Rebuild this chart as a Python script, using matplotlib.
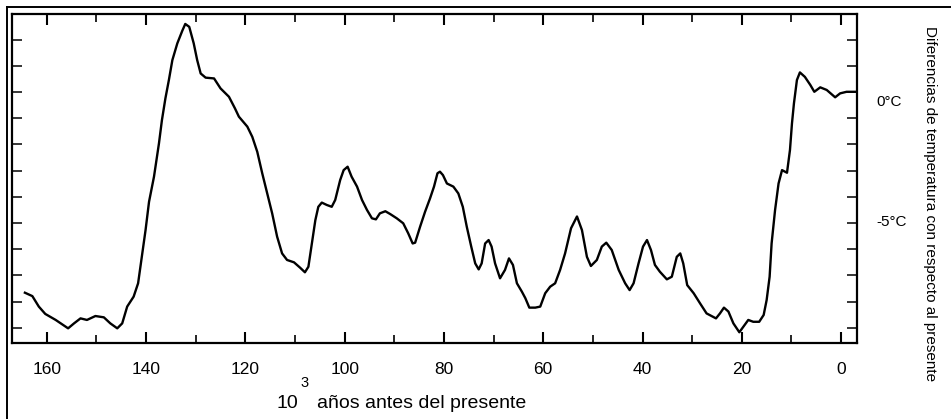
import matplotlib
matplotlib.use("Agg")
import matplotlib.pyplot as plt
from matplotlib.lines import Line2D

plt.rcParams['font.family'] = ['Liberation Sans', 'DejaVu Sans']

# Age (thousands of years before present) and temperature difference (°C)
ka = [164.4, 162.9, 161.6, 160.3, 158.2, 155.7, 154.5, 153.2, 151.9, 150.2,
      148.5, 147.2, 145.8, 144.8, 143.8, 142.5, 141.6, 140.9, 140.1, 139.4,
      138.4, 137.4, 136.8, 136.1, 135.4, 134.7, 133.7, 132.7, 132.1, 131.3,
      130.4, 129.7, 129.0, 128.0, 126.3, 125.0, 123.3, 122.1, 121.3, 119.6,
      118.6, 117.6, 116.6, 115.6, 114.6, 113.6, 112.6, 111.6, 110.2, 109.0,
      108.0, 107.3, 106.6, 105.9, 105.3, 104.6, 103.6, 102.6, 101.9, 100.9,
      100.2, 99.4, 98.6, 97.5, 96.5, 95.5, 94.5, 93.7, 92.9, 91.8,
      90.8, 89.5, 88.2, 87.2, 86.3, 85.8, 84.8, 83.8, 82.8, 82.0,
      81.3, 80.8, 80.2, 79.4, 78.1, 77.1, 76.2, 75.4, 74.5, 73.7,
      73.0, 72.4, 71.7, 71.0, 70.4, 69.7, 68.7, 67.7, 66.9, 66.1,
      65.3, 64.3, 63.6, 62.8, 61.6, 60.6, 59.6, 58.6, 57.6, 56.6,
      55.6, 54.4, 53.2, 52.2, 51.2, 50.4, 49.2, 48.2, 47.3, 46.2,
      44.8, 43.5, 42.6, 41.8, 40.8, 39.9, 39.1, 38.3, 37.5, 36.5,
      35.1, 34.1, 33.1, 32.4, 31.8, 31.0, 29.7, 28.4, 27.1, 25.2,
      24.4, 23.6, 22.7, 21.7, 20.5, 19.7, 18.7, 17.7, 16.5, 15.6,
      15.0, 14.4, 14.0, 13.3, 12.6, 11.9, 10.9, 10.3, 9.9, 9.5,
      8.9, 8.3, 7.3, 6.2, 5.4, 4.2, 2.9, 1.2, 0.2, -1.1, -2.8]
temp = [-7.66, -7.79, -8.19, -8.47, -8.70, -9.02, -8.83, -8.64, -8.70, -8.55,
        -8.60, -8.83, -9.02, -8.83, -8.19, -7.81, -7.30, -6.35, -5.27, -4.19,
        -3.23, -1.96, -1.07, -0.24, 0.46, 1.22, 1.86, 2.34, 2.60, 2.49,
        1.86, 1.22, 0.71, 0.55, 0.52, 0.14, -0.18, -0.62, -0.94, -1.32,
        -1.71, -2.28, -3.10, -3.87, -4.63, -5.52, -6.16, -6.41, -6.50, -6.70,
        -6.88, -6.67, -5.78, -4.89, -4.38, -4.22, -4.31, -4.38, -4.12, -3.36,
        -2.98, -2.85, -3.23, -3.61, -4.12, -4.50, -4.82, -4.86, -4.63, -4.55,
        -4.66, -4.82, -5.01, -5.39, -5.78, -5.75, -5.14, -4.57, -4.06, -3.61,
        -3.10, -3.04, -3.17, -3.49, -3.61, -3.87, -4.38, -5.14, -5.90, -6.54,
        -6.77, -6.54, -5.78, -5.65, -5.90, -6.54, -7.11, -6.79, -6.35, -6.60,
        -7.30, -7.62, -7.87, -8.23, -8.23, -8.19, -7.68, -7.43, -7.30, -6.79,
        -6.16, -5.20, -4.75, -5.27, -6.29, -6.64, -6.41, -5.90, -5.75, -6.03,
        -6.79, -7.30, -7.56, -7.30, -6.54, -5.90, -5.65, -6.03, -6.60, -6.86,
        -7.15, -7.05, -6.29, -6.16, -6.54, -7.37, -7.68, -8.07, -8.45, -8.64,
        -8.45, -8.23, -8.38, -8.83, -9.17, -8.96, -8.70, -8.77, -8.77, -8.51,
        -7.94, -7.05, -5.78, -4.50, -3.49, -2.98, -3.08, -2.21, -1.20, -0.43,
        0.46, 0.75, 0.58, 0.27, 0.01, 0.18, 0.08, -0.20, -0.05, 0.01, 0.01]

x_major = [0, 20, 40, 60, 80, 100, 120, 140, 160]
x_labels = ["0", "20", "40", "60", "80", "100", "120", "140", "160"]
x_minor = [10, 30, 50, 70, 90, 110, 130, 150]
y_ticks = list(range(-9, 3))
y_label_vals = [-0.38, -4.96]
y_label_texts = ["0°C", "-5°C"]

W, H = 951, 419
fig = plt.figure(figsize=(W / 100, H / 100), dpi=100)
ax = fig.add_axes([12 / W, 1 - 343 / H, (857 - 12) / W, (343 - 14) / H])

ax.plot(ka, temp, color='black', lw=1.7)
ax.set_xlim(167.0, -3.2)
ax.set_ylim(-9.58, 2.98)

ax.set_xticks(x_major)
ax.set_xticklabels(x_labels)
ax.set_xticks(x_minor, minor=True)
ax.set_yticks(y_ticks)
ax.set_yticklabels([])

ax.tick_params(axis='x', which='major', direction='in', top=True, bottom=True,
               length=8, width=1.5, pad=13.5, labelsize=12.5)
ax.tick_params(axis='x', which='minor', direction='in', top=True, bottom=True,
               length=5.5, width=1.2)
ax.tick_params(axis='y', which='major', direction='in', left=True, right=True,
               length=7, width=1.1, labelleft=False, labelright=False)
for s in ax.spines.values():
    s.set_linewidth(1.6)

tr = ax.get_yaxis_transform()
for v, t in zip(y_label_vals, y_label_texts):
    ax.text(1.0225, v, t, transform=tr, ha='left', va='center', fontsize=11)

fig.text(930 / W, 1 - 204 / H,
         "Diferencias de temperatura con respecto al presente",
         rotation=270, ha='center', va='center', fontsize=11)

# x label with raised exponent
base_y = 1 - 408 / H
fig.text(277 / W, base_y, "10", ha='left', va='baseline', fontsize=14)
fig.text(300 / W, 1 - 387 / H, "3", ha='left', va='baseline', fontsize=10.5)
fig.text(317 / W, base_y, "años antes del presente", ha='left',
         va='baseline', fontsize=14)

# outer frame lines (left and top) of the scanned figure
fig.add_artist(Line2D([7 / W, 7 / W], [0, 1 - 7.5 / H], transform=fig.transFigure,
                      color='black', lw=1.4))
fig.add_artist(Line2D([7 / W, 1], [1 - 7.5 / H, 1 - 7.5 / H], transform=fig.transFigure,
                      color='black', lw=1.4))

fig.savefig("out.png", dpi=100)
